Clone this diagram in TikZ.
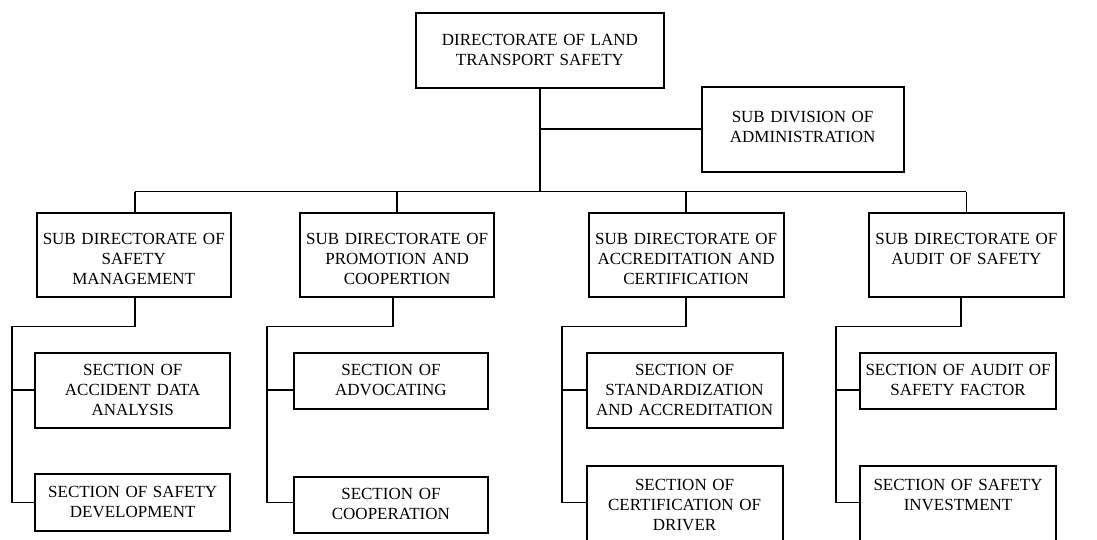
\documentclass[tikz,border=0pt]{standalone}
\usepackage{fontspec}
\setmainfont{Liberation Serif}
\begin{document}
\begin{tikzpicture}[x=1pt,y=-1pt,
  box/.style={draw, line width=1.8pt, inner sep=0pt, align=center,
    anchor=north west, font=\fontsize{17}{20}\selectfont},
  link/.style={line width=1.8pt}]
\clip (0,0) rectangle (1097,539);

% top level
\node[box, text width=248pt, text height=32.5pt, text depth=42.8pt] (top) at (415,12)
  {DIRECTORATE OF LAND\\TRANSPORT SAFETY};
\node[box, text width=202pt, text height=35.7pt, text depth=49pt] (adm) at (700.7,86)
  {SUB DIVISION OF\\ADMINISTRATION};

% sub directorates
\node[box, text width=194.3pt, text height=31.6pt, text depth=52.7pt] (sd1) at (35.7,211.7)
  {SUB DIRECTORATE OF\\SAFETY\\MANAGEMENT};
\node[box, text width=194pt, text height=31.6pt, text depth=52.7pt] (sd2) at (299.3,211.7)
  {SUB DIRECTORATE OF\\PROMOTION AND\\COOPERTION};
\node[box, text width=195pt, text height=31.6pt, text depth=52.7pt] (sd3) at (587.7,211.7)
  {SUB DIRECTORATE OF\\ACCREDITATION AND\\CERTIFICATION};
\node[box, text width=194.4pt, text height=31.6pt, text depth=52.7pt] (sd4) at (868.3,211.7)
  {SUB DIRECTORATE OF\\AUDIT OF SAFETY};

% sections
\node[box, text width=195pt, text height=23.3pt, text depth=52.3pt] (a1) at (34.3,351.7)
  {SECTION OF\\ACCIDENT DATA\\ANALYSIS};
\node[box, text width=195pt, text height=24pt, text depth=33.3pt] (a2) at (34.3,472.7)
  {SECTION OF SAFETY\\DEVELOPMENT};
\node[box, text width=194.6pt, text height=23.3pt, text depth=33.3pt] (b1) at (292.7,351.7)
  {SECTION OF\\ADVOCATING};
\node[box, text width=194.6pt, text height=22.6pt, text depth=34pt] (b2) at (292.7,475.7)
  {SECTION OF\\COOPERATION};
\node[box, text width=196pt, text height=23.3pt, text depth=52.3pt] (c1) at (585.7,351.7)
  {SECTION OF\\STANDARDIZATION\\AND ACCREDITATION};
\node[box, text width=196pt, text height=24.5pt, text depth=58.5pt] (c2) at (585.7,465)
  {SECTION OF\\CERTIFICATION OF\\DRIVER};
\node[box, text width=195.7pt, text height=23.3pt, text depth=33.3pt] (d1) at (859.3,351.7)
  {SECTION OF AUDIT OF\\SAFETY FACTOR};
\node[box, text width=195.7pt, text height=24.5pt, text depth=58.5pt] (d2) at (859.3,465)
  {SECTION OF SAFETY\\INVESTMENT};

% junction levels
\coordinate (bus) at (0,191.5);
\coordinate (elbow) at (0,326.5);
\coordinate (row1) at (0,390);
\coordinate (row2) at (0,502.5);
\coordinate (ra) at (12,0);
\coordinate (rb) at (267.3,0);
\coordinate (rc) at (561.7,0);
\coordinate (rd) at (836,0);

% trunk, administration branch and bus
\draw[link] (top.south) -- (top.south |- bus);
\draw[link] (adm.west) -- (adm.west -| top.south);
\draw[link] ([xshift=1.2pt]sd1.north |- bus) -- (sd4.north |- bus);
\draw[link] ([xshift=1.2pt]sd1.north) -- ([xshift=1.2pt]sd1.north |- bus);
\draw[link] (sd2.north) -- (sd2.north |- bus);
\draw[link] (sd3.north) -- (sd3.north |- bus);
\draw[link] (sd4.north) -- (sd4.north |- bus);

% sub directorate to section rails
\draw[link] ([xshift=1.2pt]sd1.south) |- (ra |- elbow) -- (ra |- row2) -- (a2.west |- row2);
\draw[link] (ra |- row1) -- (a1.west |- row1);
\draw[link] ([xshift=-4.6pt]sd2.south) |- (rb |- elbow) -- (rb |- row2) -- (b2.west |- row2);
\draw[link] (rb |- row1) -- (b1.west |- row1);
\draw[link] (sd3.south) |- (rc |- elbow) -- (rc |- row2) -- (c2.west |- row2);
\draw[link] (rc |- row1) -- (c1.west |- row1);
\draw[link] ([xshift=-5.5pt]sd4.south) |- (rd |- elbow) -- (rd |- row2) -- (d2.west |- row2);
\draw[link] (rd |- row1) -- (d1.west |- row1);
\end{tikzpicture}
\end{document}
